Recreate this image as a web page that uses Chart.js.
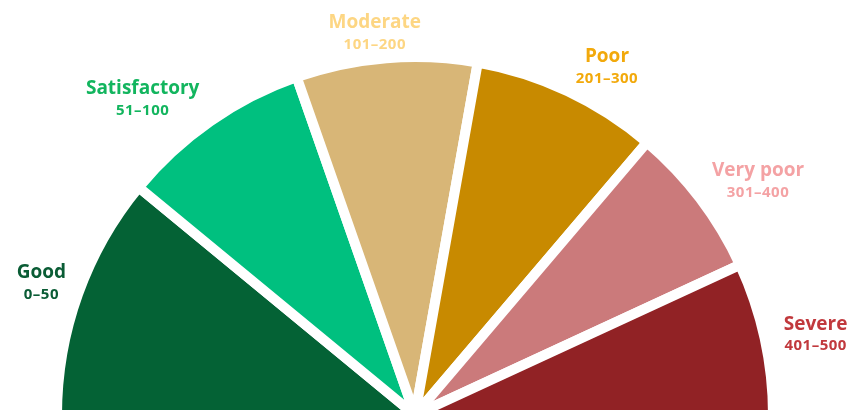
<!DOCTYPE html>
<html>
<head>
<meta charset="utf-8">
<script src="https://cdn.jsdelivr.net/npm/chart.js@4"></script>
<style>
  html, body { margin: 0; padding: 0; overflow: hidden; background: #ffffff; }
  #wrap { position: absolute; left: 0; top: 0; width: 847px; height: 420px; }
</style>
</head>
<body>
<div id="wrap"><canvas id="c"></canvas></div>
<script>
// ---- data ----
const categories = ['Good', 'Satisfactory', 'Moderate', 'Poor', 'Very poor', 'Severe'];
const ranges = ['0–50', '51–100', '101–200', '201–300', '301–400', '401–500'];
const sliceValues = [39.5, 31.2, 29.4, 30.3, 24.8, 24.8];

// ---- styles ----
const sliceColors = ['#046235', '#00c07f', '#d8b677', '#c88a00', '#cb7a7b', '#912225'];
const labelColors = ['#0a5c35', '#12b55e', '#fdd683', '#f2a90b', '#f4a2a4', '#c1393d'];
const labelAngleNudge = [0.3, 5.8, 1.4, -3.6, -2.9, -1.0]; // degrees, counter-clockwise
const labelGapExtra = [0, 0, -5, 0, 0, 7]; // extra radial distance

const BORDER = 10;

const outsideLabels = {
  id: 'outsideLabels',
  afterDatasetsDraw(chart, args, opts) {
    const ctx = chart.ctx;
    const meta = chart.getDatasetMeta(0);
    meta.data.forEach((arc, i) => {
      const p = arc.getProps(['x', 'y', 'startAngle', 'endAngle', 'outerRadius'], true);
      const mid = (p.startAngle + p.endAngle) / 2 - labelAngleNudge[i] * Math.PI / 180;
      const dx = Math.cos(mid), dy = Math.sin(mid);
      ctx.save();
      try { ctx.letterSpacing = '0px'; } catch (e) {}
      ctx.font = 'bold 19px "Open Sans"';
      const w1 = ctx.measureText(categories[i]).width;
      ctx.font = 'bold 15px "Open Sans"';
      try { ctx.letterSpacing = '0.5px'; } catch (e) {}
      const w2 = ctx.measureText(ranges[i]).width;
      const w = Math.max(w1, w2), h = 36;
      const extent = Math.abs(dx) * w / 2 + Math.abs(dy) * h / 2;
      const r = p.outerRadius - BORDER / 2 + opts.gap + labelGapExtra[i] + extent;
      const cx = p.x + dx * r, cy = p.y + dy * r;
      ctx.fillStyle = labelColors[i];
      ctx.textAlign = 'center';
      ctx.textBaseline = 'middle';
      try { ctx.letterSpacing = '0px'; } catch (e) {}
      ctx.font = 'bold 19px "Open Sans"';
      ctx.fillText(categories[i], cx, cy - 10);
      try { ctx.letterSpacing = '0.5px'; } catch (e) {}
      ctx.font = 'bold 15px "Open Sans"';
      ctx.fillText(ranges[i], cx, cy + 12);
      ctx.restore();
    });
  }
};

new Chart(document.getElementById('c'), {
  type: 'doughnut',
  data: {
    labels: categories,
    datasets: [{
      data: sliceValues,
      backgroundColor: sliceColors,
      borderColor: '#ffffff',
      borderWidth: BORDER,
      borderJoinStyle: 'miter',
      hoverOffset: 0
    }]
  },
  options: {
    responsive: true,
    maintainAspectRatio: false,
    animation: false,
    rotation: -90,
    circumference: 180,
    cutout: 0,
    layout: { padding: { top: 52, bottom: 0, left: 30, right: 47 } },
    plugins: {
      legend: { display: false },
      tooltip: { enabled: false },
      outsideLabels: { gap: 14 }
    }
  },
  plugins: [outsideLabels]
});
</script>
</body>
</html>
